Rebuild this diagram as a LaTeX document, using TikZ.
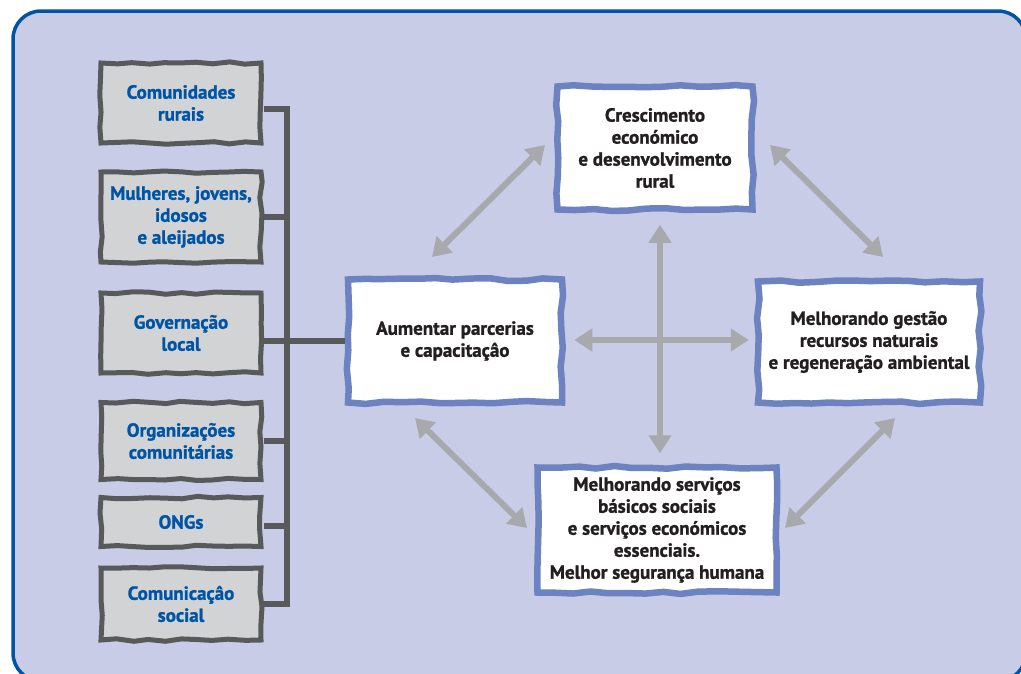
\documentclass[tikz,border=0pt]{standalone}
\usepackage{fontspec}
\setmainfont{PT Sans}[BoldFont={PT Sans Bold}, BoldFeatures={FakeBold=1.2}]
\usetikzlibrary{arrows.meta,decorations.pathmorphing,calc}
\definecolor{framefill}{RGB}{200,204,230}
\definecolor{framecol}{RGB}{0,84,166}
\definecolor{grayfill}{RGB}{209,211,212}
\definecolor{darkgraycol}{RGB}{88,89,91}
\definecolor{bluetext}{RGB}{0,84,166}
\definecolor{boxblue}{RGB}{109,130,192}
\definecolor{arrowgray}{RGB}{167,169,172}
\definecolor{blacktext}{RGB}{35,31,32}
\begin{document}
\begin{tikzpicture}[x=1pt,y=-1pt,
  graybox/.style={draw=darkgraycol, fill=grayfill, line width=5, decorate,
    decoration={random steps, segment length=16, amplitude=1.3},
    text=bluetext, font=\bfseries\fontsize{19}{22}\selectfont, align=center,
    inner sep=0, minimum width=160},
  whitebox/.style={draw=boxblue, fill=white, line width=6.5, decorate,
    decoration={random steps, segment length=18, amplitude=1.5},
    text=blacktext, font=\bfseries\fontsize{19}{22}\selectfont, align=center,
    inner sep=0},
  bus/.style={draw=darkgraycol, line width=6, line join=miter},
  arr/.style={draw=arrowgray, line width=6,
    {Triangle[length=18pt,width=22pt]}-{Triangle[length=18pt,width=22pt]}}
]
\pgfmathsetseed{12}
\useasboundingbox (0,0) rectangle (1021,673);
\begin{scope}
\clip (0,0) rectangle (1021,673);
\draw[line width=3.5, draw=framecol, fill=framefill, rounded corners=28] (13,11) rectangle (1026,681);
\end{scope}

% left boxes
\node[graybox, minimum height=80] (b1) at (181,103) {Comunidades\\rurais};
\node[graybox, minimum height=90] (b2) at (181,217) {Mulheres, jovens,\\idosos\\e aleijados};
\node[graybox, minimum height=80] (b3) at (181,333) {Governação\\local};
\node[graybox, minimum height=77] (b4) at (181,441) {Organizações\\comunitárias};
\node[graybox, minimum height=49] (b5) at (181,522) {ONGs};
\node[graybox, minimum height=72] (b6) at (181,604) {Comunicaçâo\\social};

% right boxes
\node[whitebox, minimum width=195, minimum height=123] (cres) at (655,148) {Crescimento\\económico\\e desenvolvimento\\rural};
\node[whitebox, minimum width=214, minimum height=123] (aum) at (455,341) {Aumentar parcerias\\e capacitaçâo};
\node[whitebox, minimum width=222, minimum height=121] (gest) at (869,342) {Melhorando gestão\\recursos naturais\\e regeneração ambiental};
\node[whitebox, minimum width=239, minimum height=125] (serv) at (657,530) {Melhorando serviços\\básicos sociais\\e serviços económicos\\essenciais.\\Melhor segurança humana};

% bus
\coordinate (bt) at (287,604);
\draw[bus] ([yshift=-6pt]b1.east) -| (bt) -- (b6.east);
\draw[bus] (b2.east) -- (b2.east -| bt);
\draw[bus] (b4.east) -- (b4.east -| bt);
\draw[bus] ([yshift=-4pt]b5.east) -- ([yshift=-4pt]b5.east -| bt);
\draw[bus] (aum.west) -- (aum.west -| b3.east);

% arrows
\coordinate (hub) at (660,340);
\draw[arr, shorten <=12pt, shorten >=11pt] (cres.south -| hub) -- (serv.north -| hub);
\draw[arr, shorten <=9pt, shorten >=6pt] (aum.east |- hub) -- (gest.west |- hub);
\coordinate (dA1) at (432,257); \coordinate (dA2) at (545,145);
\coordinate (dB1) at (770,145); \coordinate (dB2) at (883,257);
\coordinate (dC1) at (415,418); \coordinate (dC2) at (527,528);
\coordinate (dD1) at (895,418); \coordinate (dD2) at (785,528);
\draw[arr] (dA1) -- (dA2);
\draw[arr] (dB1) -- (dB2);
\draw[arr] (dC1) -- (dC2);
\draw[arr] (dD1) -- (dD2);
\end{tikzpicture}
\end{document}
